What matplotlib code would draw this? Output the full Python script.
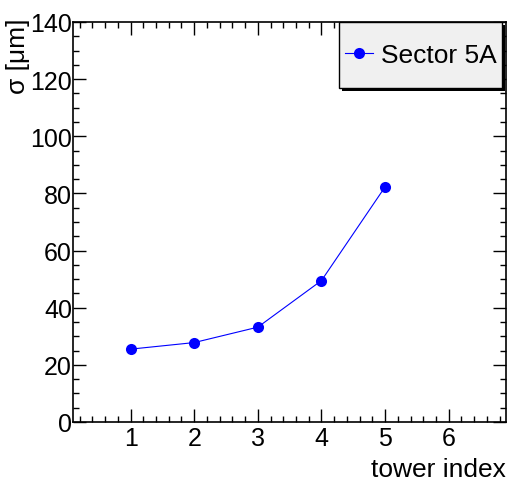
import matplotlib
matplotlib.use("Agg")
import matplotlib.pyplot as plt
from matplotlib.patches import Rectangle
from matplotlib.ticker import MultipleLocator

# data
tower = [1, 2, 3, 4, 5]
sigma = [25.5, 27.8, 33.2, 49.5, 82.3]
series_label = "Sector 5A"

plt.rcParams['font.family'] = ['Liberation Sans', 'DejaVu Sans']

W, H = 512, 481
fig = plt.figure(figsize=(5.12, 4.81), dpi=100)
ax = fig.add_axes([73.3/W, 1 - 423/H, 432.7/W, 400/H])

ax.plot(tower, sigma, color='#0000ff', lw=0.8, marker='o', ms=8,
        markeredgewidth=0, label=series_label)

ax.set_xlim(0.1, 6.9)
ax.set_ylim(0, 140)
ax.xaxis.set_major_locator(MultipleLocator(1))
ax.xaxis.set_minor_locator(MultipleLocator(0.2))
ax.yaxis.set_major_locator(MultipleLocator(20))
ax.yaxis.set_minor_locator(MultipleLocator(5))
ax.set_xticks([1, 2, 3, 4, 5, 6])

fs = 19
ax.tick_params(which='both', direction='in', top=True, right=True, width=1, labelsize=18)
ax.tick_params(which='major', length=9.5)
ax.tick_params(which='minor', length=4.5)
ax.tick_params(axis='y', pad=1)
ax.tick_params(axis='x', pad=3)
for s in ax.spines.values():
    s.set_linewidth(1.2)

fig.text(506/W, 1 - 470/H, "tower index", ha='right', va='center', fontsize=fs)
fig.text(18/W, 1 - 18/H, "σ [μm]", ha='center', va='top', rotation=90, fontsize=fs)

# legend box with ROOT-style hard shadow
x0, y0, x1, y1 = 339, 23, 502, 89
ax.add_patch(Rectangle(((x0 + 3)/W, 1 - (y1 + 3)/H), (x1 - x0)/W, (y1 - y0)/H,
                       transform=fig.transFigure, clip_on=False,
                       facecolor='black', lw=0, zorder=5))
ax.add_patch(Rectangle((x0/W, 1 - y1/H), (x1 - x0)/W, (y1 - y0)/H,
                       transform=fig.transFigure, clip_on=False, facecolor='#f0f0f0',
                       edgecolor='black', lw=1, zorder=6))
leg = ax.legend(loc='center left', bbox_to_anchor=(345/W, 1 - 56/H),
                bbox_transform=fig.transFigure, fontsize=fs, frameon=False,
                borderaxespad=0, borderpad=0, handlelength=1.06, handletextpad=0.3)
leg.set_zorder(7)

fig.savefig("out.png", dpi=100)
